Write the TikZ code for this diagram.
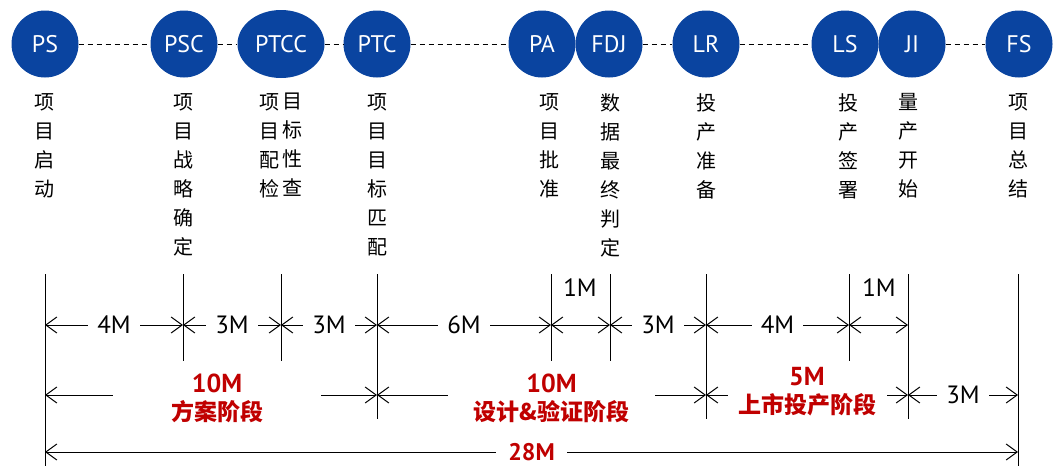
\documentclass[tikz,border=0pt]{standalone}
\usepackage{fontspec}
\setmainfont{PT Sans}
\newfontfamily\cjk{Noto Sans CJK SC}
\usetikzlibrary{arrows.meta,shapes.geometric}
\definecolor{msblue}{HTML}{0A44A0}
\definecolor{phasered}{HTML}{C00000}
\tikzset{
  ms/.style={circle, fill=msblue, text=white, minimum size=67pt, inner sep=0pt,
    font=\fontsize{24}{24}\selectfont},
  msell/.style={ellipse, fill=msblue, text=white, minimum width=87pt, minimum height=68pt, inner sep=0pt,
    font=\fontsize{24}{24}\selectfont},
  vt/.style={anchor=north, align=center, inner sep=0pt, font=\cjk\fontsize{20}{29}\selectfont},
  dashc/.style={dash pattern=on 5pt off 4pt, line width=0.8pt},
  tick/.style={line width=1pt},
  dim/.style={line width=1pt, {Straight Barb[length=11pt,width=16pt]}-{Straight Barb[length=11pt,width=16pt]}},
  lbl/.style={fill=white, inner xsep=9pt, inner ysep=1pt, font=\fontsize{25}{25}\selectfont},
  phase/.style={fill=white, text=phasered, align=center, inner xsep=0pt, inner ysep=1pt,
    font=\fontsize{23}{28}\selectfont},
  total/.style={fill=white, text=phasered, inner xsep=12pt, inner ysep=0pt,
    font=\bfseries\fontsize{24}{24}\selectfont},
}
\begin{document}
\begin{tikzpicture}[x=1pt,y=-1pt]
\useasboundingbox (0,0) rectangle (1062,466);
% milestones
\node[ms] (PS) at (45,44) {PS};
\node[ms] (PSC) at (184,44) {PSC};
\node[msell] (PTCC) at (281,44) {PTCC};
\node[ms] (PTC) at (377,44) {PTC};
\node[ms] (PA) at (542,44) {PA};
\node[ms] (FDJ) at (609,44) {FDJ};
\node[ms] (LR) at (706,44) {LR};
\node[ms] (LS) at (845,44) {LS};
\node[ms] (JI) at (912,44) {JI};
\node[ms] (FS) at (1019,44) {FS};
\draw[dashc] (PS) -- (PSC);
\draw[dashc] (PSC) -- (PTCC);
\draw[dashc] (PTCC) -- (PTC);
\draw[dashc] (PTC) -- (PA);
\draw[dashc] (FDJ) -- (LR);
\draw[dashc] (LR) -- (LS);
\draw[dashc] (JI) -- (FS);
% descriptions
\node[vt] (dPS) at (44,93) {项\\目\\启\\动};
\node[vt] (dPSC) at (183,93) {项\\目\\战\\略\\确\\定};
\node[vt] (dPTCCa) at (269,93) {项\\目\\配\\检};
\node[vt] (dPTCCb) at (292,93) {目\\标\\性\\查};
\node[vt] (dPTC) at (377,93) {项\\目\\目\\标\\匹\\配};
\node[vt] (dPA) at (549,93) {项\\目\\批\\准};
\node[vt] (dFDJ) at (610,93) {数\\据\\最\\终\\判\\定};
\node[vt] (dLR) at (706,93) {投\\产\\准\\备};
\node[vt] (dLS) at (848,93) {投\\产\\签\\署};
\node[vt] (dJI) at (908,93) {量\\产\\开\\始};
\node[vt] (dFS) at (1018,93) {项\\目\\总\\结};
% tick lines
\coordinate (tPS) at (45,274);   \coordinate (bPS) at (45,466);
\coordinate (tPSC) at (183,274); \coordinate (bPSC) at (183,361);
\coordinate (tPTCC) at (281,274);\coordinate (bPTCC) at (281,361);
\coordinate (tPTC) at (377,274); \coordinate (bPTC) at (377,419);
\coordinate (tPA) at (551,274);  \coordinate (bPA) at (551,361);
\coordinate (tFDJ) at (610,274); \coordinate (bFDJ) at (610,361);
\coordinate (tLR) at (706,274);  \coordinate (bLR) at (706,419);
\coordinate (tLS) at (849,274);  \coordinate (bLS) at (849,361);
\coordinate (tJI) at (908,274);  \coordinate (bJI) at (908,419);
\coordinate (tFS) at (1018,274); \coordinate (bFS) at (1018,466);
\foreach \n in {PS,PSC,PTCC,PTC,PA,FDJ,LR,LS,JI,FS} {\draw[tick] (t\n) -- (b\n);}
% row coordinates
\foreach \n/\x in {PS/45,PSC/183,PTCC/281,PTC/377,PA/551,FDJ/610,LR/706,LS/849,JI/908,FS/1018} {
  \coordinate (r1\n) at (\x,325);
  \coordinate (r2\n) at (\x,395);
  \coordinate (r3\n) at (\x,452);
}
% row 1
\draw[dim] (r1PS) -- node[lbl] {4M} (r1PSC);
\draw[dim] (r1PSC) -- node[lbl] {3M} (r1PTCC);
\draw[dim] (r1PTCC) -- node[lbl] {3M} (r1PTC);
\draw[dim] (r1PTC) -- node[lbl] {6M} (r1PA);
\draw[dim] (r1PA) -- (r1FDJ);
\draw[dim] (r1FDJ) -- node[lbl] {3M} (r1LR);
\draw[dim] (r1LR) -- node[lbl] {4M} (r1LS);
\draw[dim] (r1LS) -- (r1JI);
\node[lbl, fill=none] (m1a) at (580,288) {1M};
\node[lbl, fill=none] (m1b) at (879,288) {1M};
% row 2
\draw[dim] (r2PS) -- node[phase, minimum width=208pt, xshift=6pt, yshift=-3pt]
  {{\bfseries\fontsize{26}{26}\selectfont 10M}\\{\cjk\bfseries 方案阶段}} (r2PTC);
\draw[dim] (r2PTC) -- node[phase, minimum width=207pt, xshift=10pt, yshift=-3pt]
  {{\bfseries\fontsize{26}{26}\selectfont 10M}\\{\cjk\bfseries 设计\&验证阶段}} (r2LR);
\draw[dim] (r2LR) -- node[phase, minimum width=159pt, yshift=3pt]
  {{\bfseries\fontsize{26}{26}\selectfont 5M}\\{\cjk\bfseries 上市投产阶段}} (r2JI);
\draw[dim] (r2JI) -- node[lbl] {3M} (r2FS);
% row 3
\draw[dim] (r3PS) -- node[total] {28M} (r3FS);
\end{tikzpicture}
\end{document}
